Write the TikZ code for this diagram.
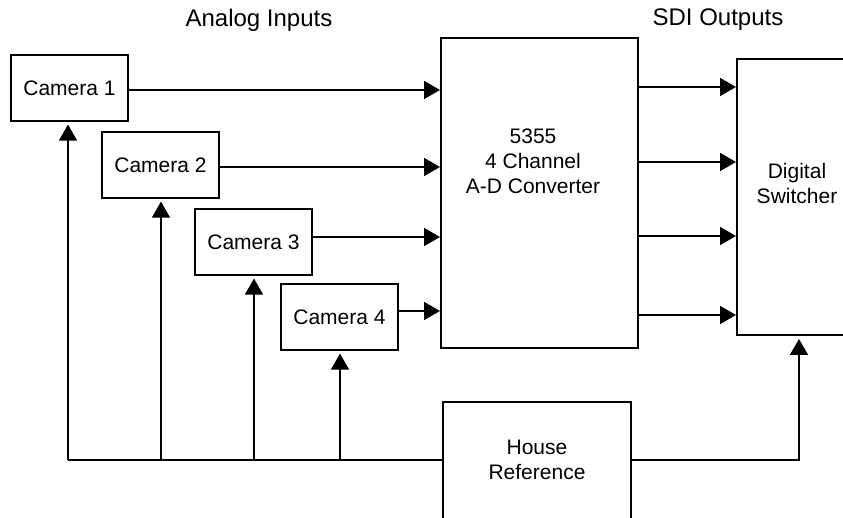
\documentclass[tikz,border=0pt]{standalone}
\usepackage{fontspec}
\setmainfont{Liberation Sans}
\usetikzlibrary{arrows.meta,calc}
\begin{document}
\begin{tikzpicture}[x=1pt,y=-1pt,
 cam/.style={draw, line width=1.2pt, minimum width=117pt, minimum height=66pt, inner sep=0pt, font=\fontsize{21}{25}\selectfont},
 blk/.style={draw, line width=2pt, inner sep=0pt},
 txt/.style={align=center, font=\fontsize{21}{25}\selectfont, inner sep=0pt},
 head/.style={font=\fontsize{24}{28}\selectfont, inner sep=0pt},
 arr/.style={line width=1.8pt, -{Triangle[length=16pt,width=18pt]}},
 tarr/.style={line width=1.2pt, -{Triangle[length=16pt,width=18pt]}, shorten >=3pt},
 bus/.style={line width=1.8pt},
]
\useasboundingbox (0,0) rectangle (843,518);
\clip (0,0) rectangle (843,518);
\fill[white] (0,0) rectangle (843,518);

\node[head] (ai) at (259,20) {Analog Inputs};
\node[head] (so) at (718,20) {SDI Outputs};

\node[cam] (cam1) at (69.5,88) {Camera 1\hspace{8pt}};
\node[cam] (cam2) at (160.5,165) {Camera 2\hspace{8pt}};
\node[cam] (cam3) at (253.5,242) {Camera 3\hspace{8pt}};
\node[cam] (cam4) at (339.5,317) {Camera 4\hspace{8pt}};

\node[blk, minimum width=197pt, minimum height=310pt] (conv) at (539.5,193) {};
\node[txt] (convt) at (533,161) {5355\\4 Channel\\A-D Converter};

\node[blk, minimum width=120pt, minimum height=276pt] (sw) at (797,197) {};
\node[txt] (swt) at (797,183) {Digital\\Switcher};

\node[blk, minimum width=188pt, minimum height=124pt] (hr) at (537,464) {};
\node[txt] (hrt) at (537,460) {House\\Reference};

% inputs
\draw[arr] ($(cam1.east)+(0,2)$) coordinate (s1) -- (s1 -| conv.west);
\draw[arr] ($(cam2.east)+(0,2)$) coordinate (s2) -- (s2 -| conv.west);
\draw[arr] ($(cam3.east)+(0,-5)$) coordinate (s3) -- (s3 -| conv.west);
\draw[arr] ($(cam4.east)+(0,-6)$) coordinate (s4) -- (s4 -| conv.west);

% outputs
\draw[arr] ($(conv.north east)+(0,50)$) coordinate (o1) -- (o1 -| sw.west);
\draw[arr] ($(conv.north east)+(0,125)$) coordinate (o2) -- (o2 -| sw.west);
\draw[arr] ($(conv.north east)+(0,199)$) coordinate (o3) -- (o3 -| sw.west);
\draw[arr] ($(conv.north east)+(0,278)$) coordinate (o4) -- (o4 -| sw.west);

% reference bus
\coordinate (b1) at (68,460);
\coordinate (b2) at (161,460);
\coordinate (b3) at (254,460);
\coordinate (b4) at (340,460);
\coordinate (b5) at (799,460);
\draw[bus] (b1) -- (hr.west |- b1);
\draw[tarr] (b1) -- (b1 |- cam1.south);
\draw[tarr] (b2) -- (b2 |- cam2.south);
\draw[tarr] (b3) -- (b3 |- cam3.south);
\draw[tarr] (b4) -- (b4 |- cam4.south);
\draw[arr, shorten >=3pt] (hr.east |- b5) -- (b5) -- (b5 |- sw.south);
\end{tikzpicture}
\end{document}
